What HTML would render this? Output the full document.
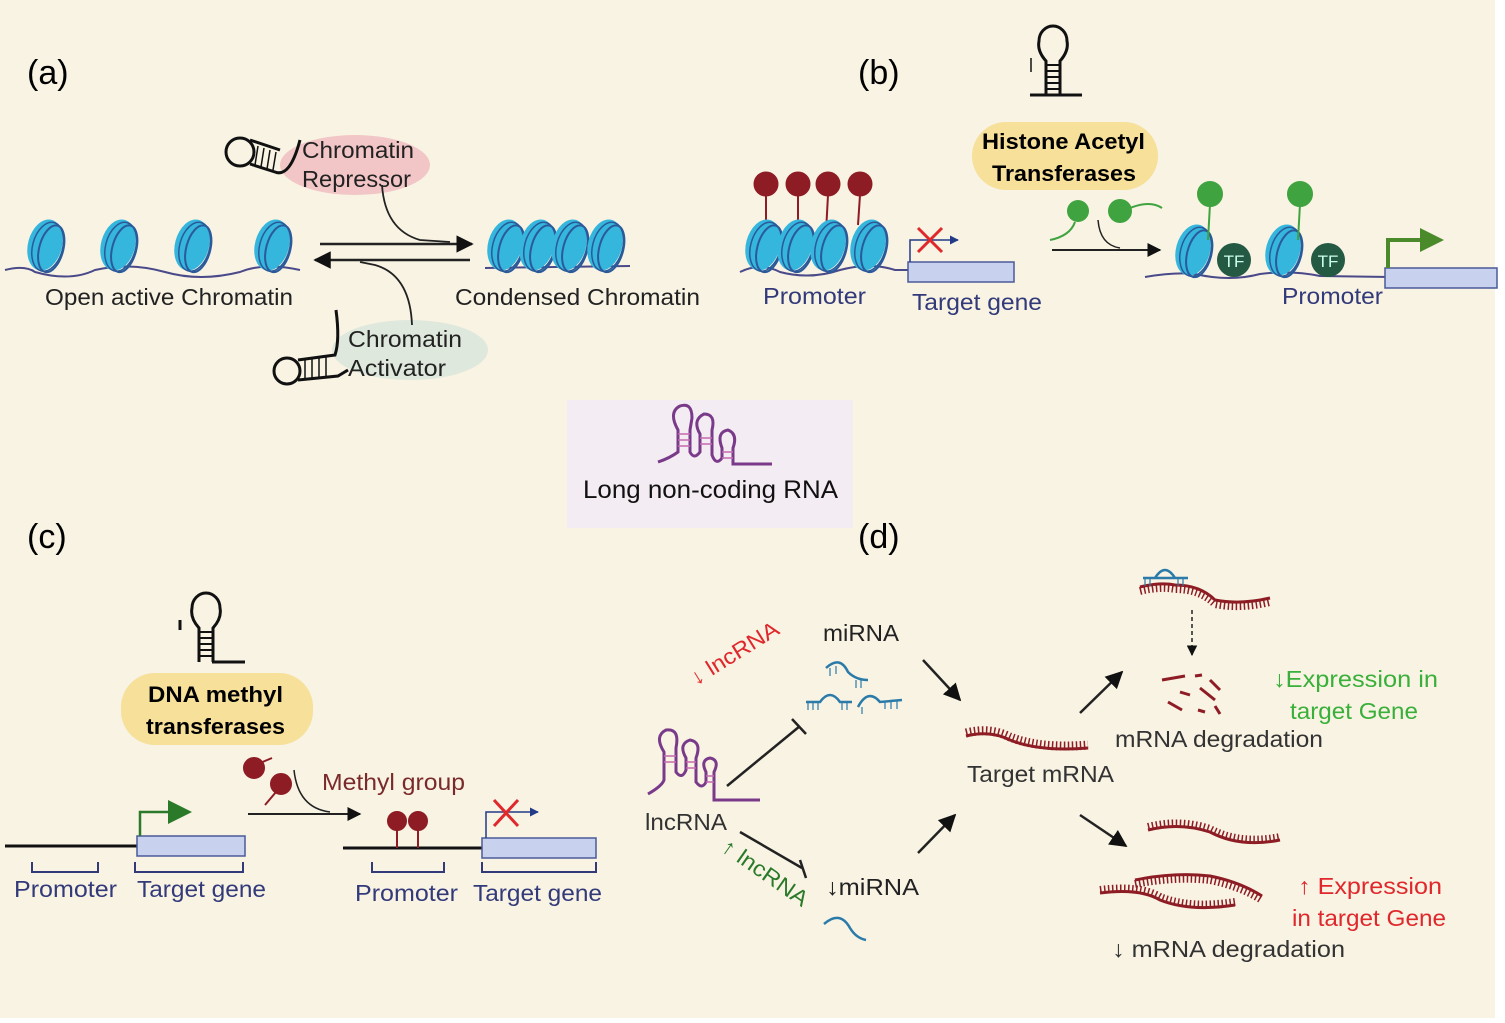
<!DOCTYPE html>
<html><head><meta charset="utf-8"><style>
body{margin:0;background:#fff}
svg{display:block}
text{font-family:"Liberation Sans",sans-serif}
</style></head><body>
<svg width="1505" height="1023" viewBox="0 0 1505 1023" xmlns="http://www.w3.org/2000/svg">
<defs>
<g id="nuc">
<ellipse cx="0" cy="0" rx="17" ry="26" transform="rotate(15)" fill="#35b6dd"/>
<ellipse cx="7" cy="2" rx="12" ry="24" transform="rotate(15)" fill="none" stroke="#2a5a9a" stroke-width="2"/>
<ellipse cx="3" cy="1" rx="15" ry="25" transform="rotate(15)" fill="none" stroke="#2a5a9a" stroke-width="1.5"/>
</g>
<g id="hp">
<path d="M-7 62 L-7 28 Q-16 18 -14 8 A14 15 0 1 1 14 8 Q16 18 7 28 L7 62" fill="none" stroke="#111" stroke-width="3"/>
<g stroke="#111" stroke-width="2"><line x1="-7" y1="32" x2="7" y2="32"/><line x1="-7" y1="38" x2="7" y2="38"/><line x1="-7" y1="44" x2="7" y2="44"/><line x1="-7" y1="50" x2="7" y2="50"/><line x1="-7" y1="56" x2="7" y2="56"/></g>
</g>
<marker id="ah" viewBox="0 0 10 10" refX="9" refY="5" markerWidth="7" markerHeight="7" orient="auto"><path d="M0 0L10 5L0 10z" fill="#111"/></marker>
<marker id="ab" viewBox="0 0 10 10" refX="9" refY="5" markerWidth="6" markerHeight="6" orient="auto"><path d="M0 0L10 5L0 10z" fill="#223a88"/></marker>
</defs>
<rect width="1505" height="1023" fill="#fff"/>
<rect x="0" y="0" width="1495" height="1018" fill="#f8f3e3"/>

<!-- (a) -->
<text x="27" y="84" font-size="34">(a)</text>
<path d="M5 270 Q25 265 35 272 Q70 282 95 270 Q130 262 165 272 Q200 282 240 272 Q265 262 300 270" fill="none" stroke="#4a4a8a" stroke-width="2"/>
<use href="#nuc" x="45" y="245"/><use href="#nuc" x="118" y="245"/><use href="#nuc" x="192" y="245"/><use href="#nuc" x="272" y="245"/>
<path d="M485 268 L630 266" stroke="#4a4a8a" stroke-width="2"/>
<use href="#nuc" x="505" y="245"/><use href="#nuc" x="537" y="245"/><use href="#nuc" x="569" y="245"/><use href="#nuc" x="605" y="245"/>
<text x="45" y="305" font-size="23" fill="#222" textLength="248" lengthAdjust="spacingAndGlyphs">Open active Chromatin</text>
<text x="455" y="305" font-size="23" fill="#222" textLength="245" lengthAdjust="spacingAndGlyphs">Condensed Chromatin</text>
<line x1="320" y1="244" x2="472" y2="244" stroke="#222" stroke-width="2.5" marker-end="url(#ah)"/>
<line x1="470" y1="260" x2="315" y2="260" stroke="#222" stroke-width="2.5" marker-end="url(#ah)"/>
<ellipse cx="355" cy="165" rx="75" ry="30" fill="#f2c6c6"/>
<text x="302" y="158" font-size="23" fill="#222" textLength="112" lengthAdjust="spacingAndGlyphs">Chromatin</text>
<text x="302" y="187" font-size="23" fill="#222" textLength="109" lengthAdjust="spacingAndGlyphs">Repressor</text>
<path d="M382 185 Q385 230 420 240 L450 242" fill="none" stroke="#222" stroke-width="1.8"/>
<circle cx="240" cy="152" r="14" fill="none" stroke="#111" stroke-width="3"/>
<path d="M250 140 L280 150 M250 164 L275 172 Q290 178 300 140" fill="none" stroke="#111" stroke-width="3"/>
<g stroke="#111" stroke-width="1.5"><line x1="258" y1="146" x2="255" y2="165"/><line x1="264" y1="148" x2="261" y2="167"/><line x1="270" y1="150" x2="267" y2="169"/><line x1="276" y1="152" x2="273" y2="170"/></g>
<ellipse cx="410" cy="350" rx="78" ry="30" fill="#dfe8dc"/>
<text x="348" y="347" font-size="23" fill="#222" textLength="114" lengthAdjust="spacingAndGlyphs">Chromatin</text>
<text x="348" y="376" font-size="23" fill="#222" textLength="98" lengthAdjust="spacingAndGlyphs">Activator</text>
<path d="M412 325 Q410 275 375 265 L360 262" fill="none" stroke="#222" stroke-width="1.8"/>
<circle cx="287" cy="371" r="13" fill="none" stroke="#111" stroke-width="3"/>
<path d="M298 360 L335 355 Q340 340 336 310 M298 380 L338 376 L348 370" fill="none" stroke="#111" stroke-width="3"/>
<g stroke="#111" stroke-width="1.5"><line x1="305" y1="359" x2="305" y2="379"/><line x1="312" y1="358" x2="312" y2="378"/><line x1="319" y1="357" x2="319" y2="378"/><line x1="326" y1="356" x2="326" y2="377"/></g>

<!-- (b) -->
<text x="858" y="84" font-size="34">(b)</text>
<path d="M740 272 Q760 262 780 272 Q810 280 840 270 Q870 262 895 270 L908 270" fill="none" stroke="#4a4a8a" stroke-width="2"/>
<g fill="#8e1c24" stroke="#8e1c24"><line x1="766" y1="195" x2="766" y2="225" stroke-width="2"/><line x1="798" y1="195" x2="798" y2="225" stroke-width="2"/><line x1="828" y1="195" x2="826" y2="232" stroke-width="2"/><line x1="860" y1="195" x2="858" y2="225" stroke-width="2"/>
<circle cx="766" cy="184" r="12"/><circle cx="798" cy="184" r="12"/><circle cx="828" cy="184" r="12"/><circle cx="860" cy="184" r="12"/></g>
<use href="#nuc" x="763" y="245"/><use href="#nuc" x="795" y="245"/><use href="#nuc" x="828" y="245"/><use href="#nuc" x="868" y="245"/>
<rect x="908" y="262" width="106" height="20" fill="#c8d2ee" stroke="#4a5a9a" stroke-width="1.5"/>
<path d="M910 262 V240 H958" fill="none" stroke="#223a88" stroke-width="1.5" marker-end="url(#ab)"/>
<path d="M918 228 L942 252 M942 228 L918 252" stroke="#e0282c" stroke-width="3"/>
<text x="763" y="304" font-size="23" fill="#333a7a" textLength="103" lengthAdjust="spacingAndGlyphs">Promoter</text>
<text x="912" y="310" font-size="23" fill="#333a7a" textLength="130" lengthAdjust="spacingAndGlyphs">Target gene</text>
<use href="#hp" x="1053" y="33"/>
<path d="M1030 95 L1082 95" stroke="#111" stroke-width="3"/>
<line x1="1031" y1="58" x2="1031" y2="72" stroke="#111" stroke-width="1.5"/>
<rect x="972" y="122" width="186" height="68" rx="34" fill="#f6e09a"/>
<text x="982" y="149" font-size="22" font-weight="bold" textLength="163" lengthAdjust="spacingAndGlyphs">Histone Acetyl</text>
<text x="992" y="181" font-size="22" font-weight="bold" textLength="144" lengthAdjust="spacingAndGlyphs">Transferases</text>
<g fill="#3fa33f"><circle cx="1078" cy="211" r="11"/><circle cx="1120" cy="211" r="12"/></g>
<path d="M1075 222 Q1070 236 1050 240 M1130 208 Q1150 200 1162 208" fill="none" stroke="#3fa33f" stroke-width="2"/>
<path d="M1098 220 Q1100 245 1120 248" fill="none" stroke="#222" stroke-width="1.5"/>
<line x1="1052" y1="250" x2="1160" y2="250" stroke="#222" stroke-width="2" marker-end="url(#ah)"/>
<path d="M1145 277 Q1175 272 1195 274 Q1230 282 1260 274 Q1290 270 1320 276 L1390 277" fill="none" stroke="#4a4a8a" stroke-width="2"/>
<use href="#nuc" x="1193" y="250"/><use href="#nuc" x="1283" y="250"/>
<g fill="#3fa33f" stroke="#3fa33f" stroke-width="2"><line x1="1210" y1="204" x2="1208" y2="240"/><line x1="1300" y1="204" x2="1298" y2="240"/><circle cx="1210" cy="194" r="12"/><circle cx="1300" cy="194" r="12"/></g>
<circle cx="1234" cy="260" r="17" fill="#245a44"/><circle cx="1328" cy="260" r="17" fill="#245a44"/>
<text x="1234" y="267" font-size="17" fill="#cfe" text-anchor="middle">TF</text>
<text x="1328" y="267" font-size="17" fill="#cfe" text-anchor="middle">TF</text>
<rect x="1385" y="268" width="112" height="20" fill="#c8d2ee" stroke="#4a5a9a" stroke-width="1.5"/>
<path d="M1388 268 V240 H1422" fill="none" stroke="#4a8a2a" stroke-width="4"/>
<path d="M1420 228 L1444 240 L1420 252z" fill="#4a8a2a"/>
<text x="1282" y="304" font-size="23" fill="#333a7a" textLength="101" lengthAdjust="spacingAndGlyphs">Promoter</text>

<!-- center -->
<rect x="567" y="400" width="286" height="128" fill="#f3ecf2"/>
<path d="M658 462 Q670 458 678 452 L678 430 Q668 412 680 406 Q692 402 692 418 L690 430 L690 452 Q694 460 700 452 L700 434 Q692 420 704 414 Q716 414 712 430 L712 455 Q716 466 722 458 L722 448 Q716 432 728 430 Q738 434 733 448 L733 464 L772 464" fill="none" stroke="#7a3a8a" stroke-width="3"/>
<g stroke="#c46ab0" stroke-width="1.5"><path d="M678 434h12M678 440h12M678 446h12M700 438h12M700 444h12M722 452h11M722 458h11"/></g>
<text x="583" y="498" font-size="25" fill="#111" textLength="255" lengthAdjust="spacingAndGlyphs">Long non-coding RNA</text>

<!-- (c) -->
<text x="27" y="548" font-size="34">(c)</text>
<use href="#hp" x="206" y="600"/>
<path d="M180 620 L180 630 M212 662 L245 662" stroke="#111" stroke-width="3"/>
<rect x="121" y="673" width="192" height="72" rx="34" fill="#f6e09a"/>
<text x="148" y="702" font-size="22" font-weight="bold" textLength="135" lengthAdjust="spacingAndGlyphs">DNA methyl</text>
<text x="146" y="734" font-size="22" font-weight="bold" textLength="139" lengthAdjust="spacingAndGlyphs">transferases</text>
<line x1="5" y1="846" x2="137" y2="846" stroke="#111" stroke-width="3"/>
<rect x="137" y="836" width="108" height="20" fill="#c8d2ee" stroke="#4a5a9a" stroke-width="1.5"/>
<path d="M140 836 V812 H168" fill="none" stroke="#2a7a2a" stroke-width="2.5"/>
<path d="M168 800 L192 812 L168 824z" fill="#2a7a2a"/>
<path d="M32 862 V872 H98 V862 M135 862 V872 H243 V862" fill="none" stroke="#333a7a" stroke-width="2"/>
<text x="14" y="897" font-size="23" fill="#333a7a" textLength="103" lengthAdjust="spacingAndGlyphs">Promoter</text>
<text x="137" y="897" font-size="23" fill="#333a7a" textLength="129" lengthAdjust="spacingAndGlyphs">Target gene</text>
<g fill="#8e1c24" stroke="#8e1c24" stroke-width="2"><circle cx="254" cy="768" r="10"/><line x1="260" y1="763" x2="272" y2="758"/><circle cx="281" cy="784" r="10"/><line x1="276" y1="792" x2="265" y2="805"/></g>
<path d="M294 770 Q298 808 330 812" fill="none" stroke="#222" stroke-width="1.5"/>
<line x1="248" y1="814" x2="360" y2="814" stroke="#222" stroke-width="2" marker-end="url(#ah)"/>
<text x="322" y="790" font-size="23" fill="#7a2a2a" textLength="143" lengthAdjust="spacingAndGlyphs">Methyl group</text>
<line x1="343" y1="848" x2="482" y2="848" stroke="#111" stroke-width="3"/>
<g fill="#8e1c24" stroke="#8e1c24" stroke-width="2"><line x1="397" y1="826" x2="397" y2="848"/><line x1="418" y1="826" x2="418" y2="848"/><circle cx="397" cy="821" r="9"/><circle cx="418" cy="821" r="9"/></g>
<rect x="482" y="838" width="114" height="20" fill="#c8d2ee" stroke="#4a5a9a" stroke-width="1.5"/>
<path d="M486 838 V812 H538" fill="none" stroke="#223a88" stroke-width="1.5" marker-end="url(#ab)"/>
<path d="M494 800 L518 826 M518 800 L494 826" stroke="#e0282c" stroke-width="3"/>
<path d="M372 862 V872 H444 V862 M482 862 V872 H596 V862" fill="none" stroke="#333a7a" stroke-width="2"/>
<text x="355" y="901" font-size="23" fill="#333a7a" textLength="103" lengthAdjust="spacingAndGlyphs">Promoter</text>
<text x="473" y="901" font-size="23" fill="#333a7a" textLength="129" lengthAdjust="spacingAndGlyphs">Target gene</text>

<!-- (d) -->
<text x="858" y="548" font-size="34">(d)</text>
<text x="696" y="686" font-size="22" fill="#e0282c" transform="rotate(-32 696 686)" textLength="100" lengthAdjust="spacingAndGlyphs">↓ lncRNA</text>
<path d="M727 786 L800 726" fill="none" stroke="#222" stroke-width="2.5"/>
<path d="M792 719 L806 734" stroke="#222" stroke-width="2.5"/>
<text x="823" y="641" font-size="23" fill="#222" textLength="76" lengthAdjust="spacingAndGlyphs">miRNA</text>
<g fill="none" stroke="#2a7aaa" stroke-width="2.5"><path d="M826 668 Q840 655 848 672 Q856 680 868 680"/><path d="M806 702 L820 702 Q830 688 840 702 L852 702"/><path d="M858 707 Q868 688 880 702 L902 700"/></g>
<g stroke="#2a7aaa" stroke-width="1.2"><path d="M808 702v8M813 702v8M818 702v8M842 702v8M847 702v8M862 707v7M885 701v8M891 701v8M897 701v8M830 668v8M836 666v8M856 680v8M861 680v8"/></g>
<path d="M648 794 Q662 786 664 780 L664 752 Q654 736 666 730 Q680 728 676 748 L676 772 Q682 780 686 770 L686 758 Q678 744 690 740 Q702 742 696 758 L696 782 Q702 790 706 782 L706 772 Q700 760 710 758 Q720 760 714 772 L714 800 L760 800" fill="none" stroke="#7a3a8a" stroke-width="3"/>
<g stroke="#c46ab0" stroke-width="1.5"><path d="M664 756h12M664 762h12M686 762h10M686 768h10M706 776h8M706 782h8"/></g>
<text x="645" y="830" font-size="23" fill="#333" textLength="82" lengthAdjust="spacingAndGlyphs">lncRNA</text>
<path d="M740 832 L802 868" stroke="#222" stroke-width="2.5"/>
<path d="M800 860 L806 878" stroke="#222" stroke-width="2.5"/>
<text x="720" y="850" font-size="22" fill="#2a7a2a" transform="rotate(35 720 850)" textLength="100" lengthAdjust="spacingAndGlyphs">↑ lncRNA</text>
<text x="826" y="895" font-size="23" fill="#222" textLength="93" lengthAdjust="spacingAndGlyphs">↓miRNA</text>
<g fill="none" stroke="#2a7aaa" stroke-width="2.5"><path d="M824 924 Q840 910 850 928 Q856 938 866 940"/></g>
<line x1="923" y1="660" x2="960" y2="700" stroke="#222" stroke-width="2.5" marker-end="url(#ah)"/>
<line x1="918" y1="853" x2="955" y2="815" stroke="#222" stroke-width="2.5" marker-end="url(#ah)"/>
<g fill="none" stroke="#8e1c24">
<path d="M966 736 Q990 730 1010 740 Q1040 752 1088 748" stroke-width="3"/>
<path d="M966 736 Q990 730 1010 740 Q1040 752 1088 748" stroke-width="9" stroke-dasharray="1.5 2.5" transform="translate(0 -3)"/>
<path d="M1140 587 Q1160 582 1175 585 Q1200 585 1215 600 Q1240 605 1270 598" stroke-width="3"/>
<path d="M1140 587 Q1160 582 1175 585 Q1200 585 1215 600 Q1240 605 1270 598" stroke-width="8" stroke-dasharray="1.5 2.5" transform="translate(0 4)"/>
<path d="M1148 830 Q1180 822 1210 832 Q1240 848 1280 840" stroke-width="3"/>
<path d="M1148 830 Q1180 822 1210 832 Q1240 848 1280 840" stroke-width="8" stroke-dasharray="1.5 2.5" transform="translate(0 -3)"/>
<path d="M1100 893 Q1140 888 1160 900 Q1190 912 1235 905" stroke-width="3"/>
<path d="M1100 893 Q1140 888 1160 900 Q1190 912 1235 905" stroke-width="8" stroke-dasharray="1.5 2.5" transform="translate(0 -3)"/>
<path d="M1135 880 Q1175 872 1210 876 Q1240 882 1262 896" stroke-width="3"/>
<path d="M1135 880 Q1175 872 1210 876 Q1240 882 1262 896" stroke-width="8" stroke-dasharray="1.5 2.5" transform="translate(0 4)"/>
</g>
<path d="M1143 578 L1188 578 M1155 578 Q1165 562 1175 578" fill="none" stroke="#2a7aaa" stroke-width="2.5"/>
<g stroke="#2a7aaa" stroke-width="1.2"><path d="M1145 578v8M1150 578v8M1178 578v8M1183 578v8"/></g>
<line x1="1192" y1="610" x2="1192" y2="655" stroke="#222" stroke-width="1.5" stroke-dasharray="4 3" marker-end="url(#ah)"/>
<g stroke="#8e1c24" stroke-width="3"><path d="M1162 680 L1185 676 M1195 676 L1202 675 M1180 692 L1190 695 M1200 688 L1215 700 M1210 680 L1220 690 M1168 702 L1182 710 M1198 710 L1205 712 M1215 706 L1220 714"/></g>
<text x="1115" y="747" font-size="23" fill="#333" textLength="208" lengthAdjust="spacingAndGlyphs">mRNA degradation</text>
<text x="967" y="782" font-size="23" fill="#333" textLength="147" lengthAdjust="spacingAndGlyphs">Target mRNA</text>
<line x1="1080" y1="713" x2="1122" y2="672" stroke="#222" stroke-width="2.5" marker-end="url(#ah)"/>
<line x1="1080" y1="815" x2="1126" y2="846" stroke="#222" stroke-width="2.5" marker-end="url(#ah)"/>
<text x="1273" y="687" font-size="23" fill="#3ab03a" textLength="165" lengthAdjust="spacingAndGlyphs">↓Expression in</text>
<text x="1290" y="719" font-size="23" fill="#3ab03a" textLength="128" lengthAdjust="spacingAndGlyphs">target Gene</text>
<text x="1298" y="894" font-size="23" fill="#e0282c" textLength="144" lengthAdjust="spacingAndGlyphs">↑ Expression</text>
<text x="1292" y="926" font-size="23" fill="#e0282c" textLength="154" lengthAdjust="spacingAndGlyphs">in target Gene</text>
<text x="1112" y="957" font-size="23" fill="#333" textLength="233" lengthAdjust="spacingAndGlyphs">↓ mRNA degradation</text>
</svg>
</body></html>
